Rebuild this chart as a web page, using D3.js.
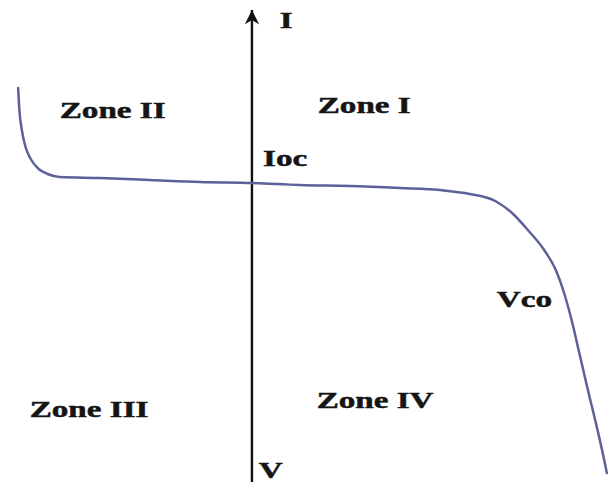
<!DOCTYPE html>
<html>
<head>
<meta charset="utf-8">
<script src="https://cdn.jsdelivr.net/npm/d3@7/dist/d3.min.js"></script>
<style>
  html, body { margin: 0; padding: 0; background: #fff; }
  svg { display: block; }
  .lbl { font-family: "Liberation Serif", "Times New Roman", serif; font-weight: bold; fill: #151515; stroke: #151515; stroke-width: 0.5; }
</style>
</head>
<body>
<svg id="chart" width="608" height="483"></svg>
<script>
// Photovoltaic cell I–V characteristic across the four quadrants
const voltage = [-0.444, -0.442, -0.437, -0.430, -0.419, -0.405, -0.388, -0.365, -0.289, -0.194,
                 -0.099, 0.000, 0.091, 0.186, 0.281, 0.357, 0.414, 0.462, 0.494, 0.524,
                 0.555, 0.577, 0.594, 0.608, 0.623, 0.638, 0.655, 0.669, 0.674];
const current = [2.32, 2.12, 1.90, 1.73, 1.60, 1.51, 1.46, 1.43, 1.42, 1.40,
                 1.38, 1.37, 1.35, 1.34, 1.32, 1.30, 1.26, 1.19, 1.07, 0.90,
                 0.70, 0.50, 0.25, -0.02, -0.36, -0.70, -1.07, -1.40, -1.53];

// Region / point labels, anchored in (V, I) units
const labelText = ["Zone II", "Zone I", "Ioc", "Vco", "Zone III", "Zone IV", "I", "V"];
const labelV    = [-0.365, 0.125, 0.021, 0.465, -0.422, 0.123, 0.053, 0.013];
const labelI    = [2.02, 2.07, 1.54, 0.13, -0.97, -0.88, 2.92, -1.58];

const svg = d3.select("#chart");

const x = d3.scaleLinear().domain([-0.45, 0.68]).range([15, 610]);
const y = d3.scaleLinear().domain([-1.6, 2.4]).range([480, 80]);

// arrowhead for the current axis
svg.append("defs").append("marker")
  .attr("id", "arrow")
  .attr("viewBox", "0 0 10 10")
  .attr("refX", 10).attr("refY", 5)
  .attr("markerWidth", 7).attr("markerHeight", 6)
  .attr("markerUnits", "strokeWidth")
  .attr("orient", "auto")
  .append("path")
  .attr("d", "M0,0 L10,5 L0,10 L3,5 Z")
  .attr("fill", "#111");

// vertical (current) axis through V = 0
svg.append("line")
  .attr("x1", x(0)).attr("x2", x(0))
  .attr("y1", y(-1.62)).attr("y2", y(3.1))
  .attr("stroke", "#111")
  .attr("stroke-width", 2.4)
  .attr("marker-end", "url(#arrow)");

// I–V curve
const pts = voltage.map((v, i) => [v, current[i]]);
const line = d3.line()
  .x(d => x(d[0]))
  .y(d => y(d[1]))
  .curve(d3.curveMonotoneX);

svg.append("path")
  .datum(pts)
  .attr("d", line)
  .attr("fill", "none")
  .attr("stroke", "#5c6199")
  .attr("stroke-width", 2.5)
  .attr("stroke-linejoin", "round")
  .attr("stroke-linecap", "round");

// labels (wide bold serif)
const stretch = 1.38;
labelText.forEach((t, i) => {
  const px = x(labelV[i]), py = y(labelI[i]);
  svg.append("text")
    .attr("class", "lbl")
    .attr("font-size", 24)
    .attr("transform", `translate(${px},${py}) scale(${stretch},1)`)
    .text(t);
});
</script>
</body>
</html>
